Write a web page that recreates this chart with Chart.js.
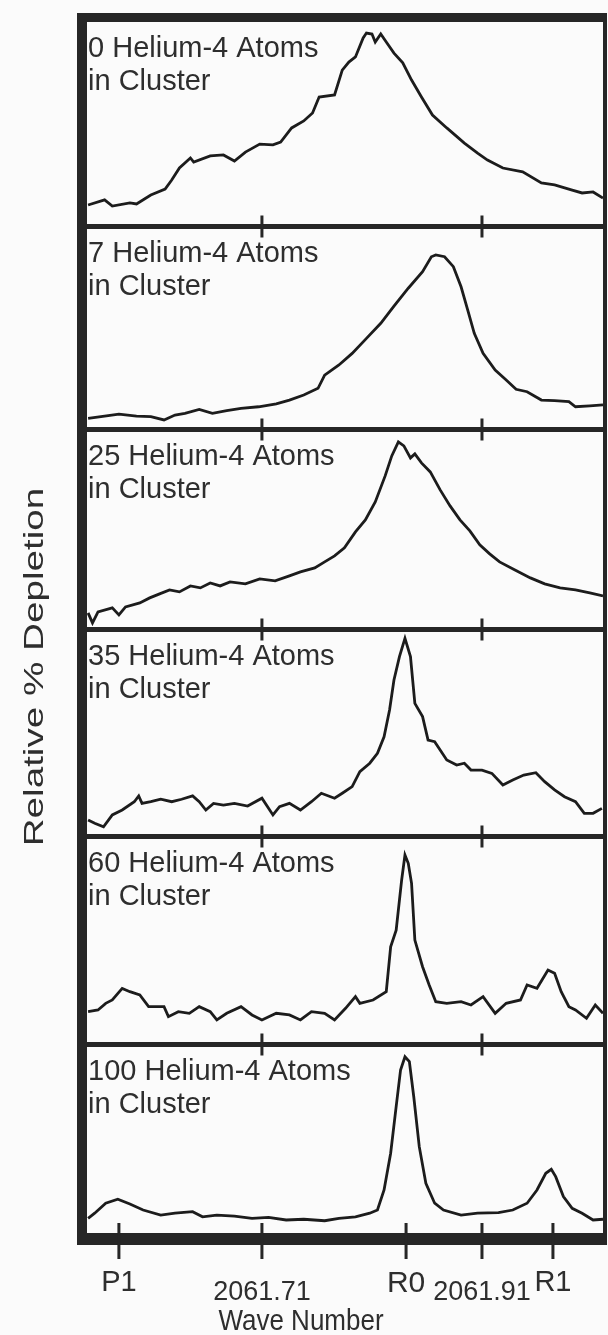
<!DOCTYPE html>
<html>
<head>
<meta charset="utf-8">
<script src="https://cdn.jsdelivr.net/npm/chart.js@4.4.1/dist/chart.umd.min.js"></script>
<style>
  html, body { margin: 0; padding: 0; background: #fbfbfb; }
  canvas { display: block; }
</style>
</head>
<body>
<canvas id="c" width="608" height="1335" style="width:608px;height:1335px"></canvas>
<script>
// ---------------- DATA ----------------
const clusterSizes = [0, 7, 25, 35, 60, 100];

const tickWaves  = [2061.58, 2061.71, 2061.841, 2061.91, 2061.9745];
const tickLabels = ['P1', '2061.71', 'R0', '2061.91', 'R1'];
const separatorTickWaves = [2061.71, 2061.91];
const waveRange = [2061.551, 2062.020];

const wave0 = [2061.552, 2061.567, 2061.574, 2061.590, 2061.596, 2061.609, 2061.622, 2061.628, 2061.635, 2061.645, 2061.648, 2061.663, 2061.675, 2061.685, 2061.695, 2061.708, 2061.720, 2061.727, 2061.737, 2061.748, 2061.756, 2061.762, 2061.776, 2061.783, 2061.789, 2061.795, 2061.802, 2061.805, 2061.810, 2061.813, 2061.818, 2061.823, 2061.830, 2061.838, 2061.846, 2061.855, 2061.865, 2061.878, 2061.894, 2061.906, 2061.915, 2061.929, 2061.947, 2061.964, 2061.976, 2061.992, 2062.001, 2062.011, 2062.020];
const depl0 = [10.5, 13, 10, 11.5, 11, 15.4, 18.3, 22.7, 28.6, 33.5, 31.5, 34.5, 35, 32, 36.4, 40.3, 39.9, 41.3, 48.2, 51.6, 55.5, 63.3, 64.3, 76.5, 80.4, 82.9, 92.2, 94.6, 94.1, 90.2, 94.1, 90.2, 84.8, 80, 71.6, 63.3, 54.5, 48.2, 40.8, 35.9, 32.5, 28.6, 26.7, 21.3, 20.3, 17.8, 16.4, 16.9, 13.9];

const wave7 = [2061.552, 2061.567, 2061.580, 2061.596, 2061.609, 2061.621, 2061.631, 2061.640, 2061.653, 2061.665, 2061.678, 2061.691, 2061.707, 2061.723, 2061.735, 2061.748, 2061.761, 2061.767, 2061.780, 2061.792, 2061.805, 2061.818, 2061.830, 2061.843, 2061.856, 2061.864, 2061.868, 2061.876, 2061.884, 2061.891, 2061.897, 2061.903, 2061.911, 2061.922, 2061.932, 2061.941, 2061.951, 2061.964, 2061.976, 2061.989, 2061.995, 2062.008, 2062.020];
const depl7 = [5.5, 6.6, 7.6, 6.6, 6.3, 4.7, 7.1, 8, 9.9, 8, 9.3, 10.4, 11.2, 12.6, 14.5, 17, 20.3, 26.8, 31.8, 37.5, 44.9, 52.3, 60.8, 69.6, 77.7, 85.1, 86, 85.1, 80.2, 70.3, 58.9, 47.4, 37.5, 29.3, 24.4, 19.8, 18.6, 14.5, 14.2, 13.7, 11.2, 11.6, 12.1];

const wave25 = [2061.552, 2061.556, 2061.561, 2061.574, 2061.580, 2061.586, 2061.599, 2061.608, 2061.617, 2061.626, 2061.635, 2061.645, 2061.654, 2061.663, 2061.672, 2061.681, 2061.695, 2061.708, 2061.722, 2061.735, 2061.745, 2061.758, 2061.767, 2061.776, 2061.785, 2061.795, 2061.804, 2061.813, 2061.822, 2061.828, 2061.834, 2061.839, 2061.845, 2061.849, 2061.855, 2061.863, 2061.872, 2061.881, 2061.890, 2061.899, 2061.908, 2061.917, 2061.926, 2061.940, 2061.954, 2061.967, 2061.981, 2061.995, 2062.008, 2062.020];
const depl25 = [8.3, 3.3, 8.8, 10.8, 7.3, 11.3, 13.3, 15.8, 17.8, 19.8, 18.8, 21.8, 20.8, 23.3, 21.8, 23.8, 22.8, 25.3, 24.3, 26.8, 28.8, 30.8, 33.8, 36.8, 40.8, 48.8, 54.8, 63.8, 76.8, 86.8, 93.8, 91.8, 85.8, 87.8, 83.3, 78.8, 69.8, 61.8, 54.8, 49.3, 42.3, 37.8, 33.8, 29.8, 25.8, 22.8, 20.8, 19.8, 18.3, 16.8];

const wave35 = [2061.552, 2061.558, 2061.566, 2061.574, 2061.583, 2061.594, 2061.598, 2061.601, 2061.609, 2061.618, 2061.628, 2061.637, 2061.647, 2061.653, 2061.659, 2061.666, 2061.675, 2061.685, 2061.697, 2061.710, 2061.720, 2061.726, 2061.735, 2061.745, 2061.755, 2061.764, 2061.776, 2061.783, 2061.792, 2061.799, 2061.808, 2061.815, 2061.821, 2061.826, 2061.830, 2061.835, 2061.840, 2061.845, 2061.849, 2061.856, 2061.861, 2061.867, 2061.878, 2061.887, 2061.894, 2061.900, 2061.910, 2061.919, 2061.929, 2061.938, 2061.948, 2061.959, 2061.967, 2061.976, 2061.985, 2061.995, 2062.003, 2062.011, 2062.019];
const depl35 = [8, 6.4, 4.7, 10.4, 12.8, 16.8, 19.6, 16, 16.8, 18, 16.8, 18, 19.6, 16.8, 12.8, 16, 15.2, 16, 14.7, 18.5, 10.4, 14.4, 16, 12.8, 16.8, 20.9, 18.5, 20.9, 24.1, 31.3, 35.4, 40.2, 48.2, 61.1, 75.6, 86.9, 95.7, 86.9, 64.3, 57.9, 46.6, 45.8, 37, 34.5, 35.4, 32.1, 32.1, 30.5, 24.9, 27.3, 29.7, 30.8, 26.5, 22.5, 19.2, 16.8, 11.2, 11.2, 13.6];

const wave60 = [2061.552, 2061.561, 2061.568, 2061.574, 2061.583, 2061.590, 2061.599, 2061.607, 2061.621, 2061.625, 2061.634, 2061.644, 2061.653, 2061.663, 2061.669, 2061.678, 2061.691, 2061.701, 2061.710, 2061.723, 2061.735, 2061.745, 2061.755, 2061.767, 2061.776, 2061.786, 2061.795, 2061.799, 2061.811, 2061.823, 2061.827, 2061.832, 2061.837, 2061.840, 2061.843, 2061.846, 2061.849, 2061.856, 2061.862, 2061.868, 2061.878, 2061.891, 2061.900, 2061.911, 2061.922, 2061.932, 2061.945, 2061.951, 2061.960, 2061.970, 2061.976, 2061.982, 2061.989, 2061.995, 2062.005, 2062.013, 2062.020];
const depl60 = [15.8, 16.6, 19.8, 21.4, 27, 25.4, 23.8, 18.2, 18.2, 13.4, 15.8, 15, 18.2, 15.8, 11.8, 15, 18.2, 14.2, 11.8, 15, 14.2, 11.8, 15.8, 15, 11.8, 17.4, 23, 19.8, 21.4, 25.4, 47, 55, 79.1, 91.1, 87.1, 77.5, 50.2, 37.4, 28.6, 20.6, 19.8, 20.6, 19, 23, 15, 19.8, 21.4, 28.6, 27, 35.8, 34.2, 25.4, 18.2, 16.6, 12.6, 19, 15];

const wave100 = [2061.552, 2061.558, 2061.568, 2061.579, 2061.590, 2061.602, 2061.618, 2061.631, 2061.647, 2061.656, 2061.669, 2061.685, 2061.701, 2061.716, 2061.732, 2061.748, 2061.767, 2061.780, 2061.795, 2061.808, 2061.815, 2061.821, 2061.827, 2061.832, 2061.836, 2061.840, 2061.844, 2061.848, 2061.853, 2061.859, 2061.867, 2061.875, 2061.891, 2061.906, 2061.925, 2061.938, 2061.951, 2061.960, 2061.968, 2061.973, 2061.977, 2061.984, 2061.992, 2062.001, 2062.011, 2062.020];
const depl100 = [7.8, 10.5, 15.8, 17.9, 15.4, 12.2, 9.5, 10.5, 11.3, 8.6, 9.5, 9, 7.8, 8.3, 6.9, 7.3, 6.5, 7.8, 8.6, 10.5, 12.2, 22.8, 42.3, 67, 86.5, 93.5, 90.9, 72.3, 45.8, 26.4, 15.8, 12.2, 9.5, 10.5, 10.8, 12.2, 15.8, 22.8, 31.7, 33.8, 29.9, 19.3, 13.1, 10.5, 6.9, 7.3];

const waves = [wave0, wave7, wave25, wave35, wave60, wave100];
const depls = [depl0, depl7, depl25, depl35, depl60, depl100];

// ---------------- STYLE ----------------
const FONT = "'Liberation Sans', Arial, Helvetica, sans-serif";
const LINE = '#1c1c1c';
const FRAME = '#262626';
const TEXT = '#2e2e2e';
const PANEL_WEIGHTS = [204.5, 203, 200, 207, 208, 188.5];
const TICK_FONT_SIZES = [29, 27, 30, 27, 29];
const TICK_LINE_HEIGHTS = [1.2, 1.96, 1.2, 1.96, 1.2];

const yScales = {};
clusterSizes.forEach((n, i) => {
  yScales['y' + i] = {
    type: 'linear', position: 'right', stack: 'panels', stackWeight: PANEL_WEIGHTS[i],
    min: 0, max: 100, display: true,
    ticks: { display: false }, grid: { display: false, drawTicks: false }, border: { display: false },
    afterFit(s) { s.width = 0; }
  };
});

const framePlugin = {
  id: 'frame',
  afterDraw(chart) {
    const { ctx, chartArea: a, scales } = chart;
    const xs = scales.x;
    ctx.save();
    ctx.fillStyle = FRAME;
    // outer frame
    ctx.fillRect(a.left - 10, a.top - 9, 10, a.bottom - a.top + 21);       // left
    ctx.fillRect(a.left - 10, a.top - 9, a.right - a.left + 14, 9);        // top
    ctx.fillRect(a.left - 10, a.bottom, a.right - a.left + 14, 12);        // bottom
    ctx.fillRect(a.right, a.top - 9, 4, a.bottom - a.top + 21);            // right
    // separators with ticks
    clusterSizes.forEach((n, i) => {
      if (i === 0) return;
      const s = scales['y' + i];
      ctx.fillRect(a.left, s.top - 2.5, a.right - a.left, 5);
      separatorTickWaves.forEach(w => {
        const px = xs.getPixelForValue(w);
        ctx.fillRect(px - 1.5, s.top - 11, 3, 22);
      });
    });
    // bottom axis tick marks
    tickWaves.forEach(w => {
      const px = xs.getPixelForValue(w);
      ctx.fillRect(px - 1.5, a.bottom - 10, 3, 36);
    });
    // panel labels
    ctx.fillStyle = TEXT;
    ctx.textAlign = 'left';
    ctx.textBaseline = 'alphabetic';
    ctx.font = '29px ' + FONT;
    clusterSizes.forEach((n, i) => {
      const s = scales['y' + i];
      ctx.fillText(n + ' Helium-4 Atoms', a.left + 1, s.top + 35);
      ctx.fillText('in Cluster', a.left + 1, s.top + 68);
    });
    // y title
    ctx.save();
    ctx.translate(43, 667);
    ctx.rotate(-Math.PI / 2);
    ctx.scale(1.38, 1);
    ctx.font = '28px ' + FONT;
    ctx.textAlign = 'center';
    ctx.fillText('Relative % Depletion', 0, 0);
    ctx.restore();
    // x title
    ctx.save();
    ctx.translate(301, 1330);
    ctx.scale(1, 1.15);
    ctx.font = '26px ' + FONT;
    ctx.textAlign = 'center';
    ctx.fillText('Wave Number', 0, 0);
    ctx.restore();
    ctx.restore();
  }
};

new Chart(document.getElementById('c'), {
  type: 'line',
  data: {
    datasets: clusterSizes.map((n, i) => ({
      label: n + ' Helium-4 Atoms in Cluster',
      data: waves[i].map((w, j) => ({ x: w, y: depls[i][j] })),
      yAxisID: 'y' + i,
      borderColor: LINE, borderWidth: 2.8, pointRadius: 0, tension: 0, fill: false
    }))
  },
  options: {
    responsive: false, animation: false, devicePixelRatio: 1,
    layout: { padding: { left: 87, top: 22, right: 5, bottom: 0 } },
    plugins: { legend: { display: false }, tooltip: { enabled: false } },
    scales: Object.assign({
      x: {
        type: 'linear', position: 'bottom', min: waveRange[0], max: waveRange[1],
        afterBuildTicks(s) { s.ticks = tickWaves.map(v => ({ value: v })); },
        ticks: {
          autoSkip: false, maxRotation: 0, minRotation: 0, padding: 33, color: TEXT,
          font: c => ({ family: FONT, size: TICK_FONT_SIZES[c.index] || 27, lineHeight: TICK_LINE_HEIGHTS[c.index] || 1.2 }),
          callback: (v, i) => tickLabels[i]
        },
        grid: { display: false, drawTicks: false }, border: { display: false },
        afterFit(s) { s.height = 102; }
      }
    }, yScales)
  },
  plugins: [framePlugin]
});
</script>
</body>
</html>
